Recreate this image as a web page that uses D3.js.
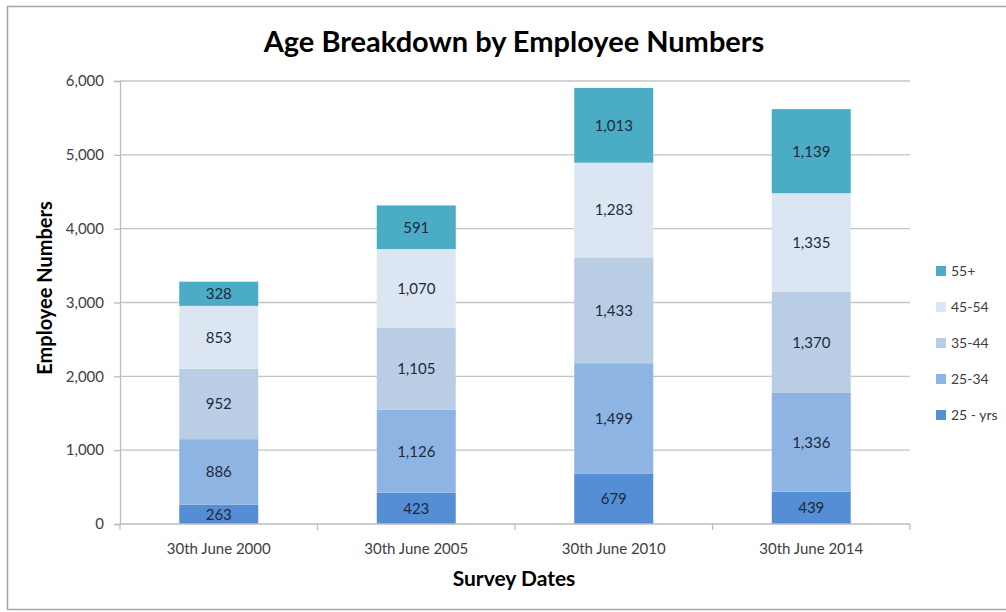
<!DOCTYPE html>
<html>
<head>
<meta charset="utf-8">
<script src="https://cdn.jsdelivr.net/npm/d3@7"></script>
<style>
  html, body { margin: 0; padding: 0; background: #fff; }
  svg { display: block; font-family: Lato, "Open Sans", "Liberation Sans", sans-serif; }
</style>
</head>
<body>
<svg id="chart" width="1006" height="612"></svg>
<script>
// Survey dates along the x axis
const categories = ["30th June 2000", "30th June 2005", "30th June 2010", "30th June 2014"];

// Age groups, stacked bottom to top
const ageGroups = ["25 - yrs", "25-34", "35-44", "45-54", "55+"];
const under25  = [263, 423, 679, 439];
const age25_34 = [886, 1126, 1499, 1336];
const age35_44 = [952, 1105, 1433, 1370];
const age45_54 = [853, 1070, 1283, 1335];
const age55up  = [328, 591, 1013, 1139];

const yTicks = [0, 1000, 2000, 3000, 4000, 5000, 6000];
const colors = ["#558ed5", "#8eb4e3", "#b9cde5", "#dce6f2", "#4bacc6"];

const seriesValues = [under25, age25_34, age35_44, age45_54, age55up];
const rows = categories.map((c, i) => {
  const r = { date: c };
  ageGroups.forEach((g, k) => { r[g] = seriesValues[k][i]; });
  return r;
});

const svg = d3.select("#chart");
const plotLeft = 120, plotRight = 910, plotTop = 81, plotBottom = 524;

// Outer chart frame
svg.append("rect")
  .attr("x", 7.5).attr("y", 6.5).attr("width", 1010).attr("height", 603)
  .attr("fill", "#fff").attr("stroke", "#a6a6a6").attr("stroke-width", 1.5);

const x = d3.scaleBand().domain(categories).range([plotLeft, plotRight]).paddingInner(0.6).paddingOuter(0.3);
const y = d3.scaleLinear().domain([0, 6000]).range([plotBottom, plotTop]);

// Horizontal gridlines
svg.append("g").selectAll("line").data(yTicks.slice(1)).join("line")
  .attr("x1", plotLeft).attr("x2", plotRight)
  .attr("y1", d => y(d)).attr("y2", d => y(d))
  .attr("stroke", "#c4c4c4").attr("stroke-width", 1.3);

// Y axis
const yAxis = svg.append("g").attr("transform", `translate(${plotLeft},0)`)
  .call(d3.axisLeft(y).tickValues(yTicks).tickFormat(d3.format(",")).tickSize(6).tickPadding(10));
yAxis.select(".domain").attr("stroke", "#bcbcbc").attr("stroke-width", 1.3);
yAxis.selectAll(".tick line").attr("stroke", "#bcbcbc").attr("stroke-width", 1.3);
yAxis.selectAll(".tick text").attr("fill", "#404040").attr("font-size", 15)
  .attr("font-family", "Lato, 'Open Sans', sans-serif");

// Stacked bars
const stack = d3.stack().keys(ageGroups)(rows);
const layers = svg.append("g").selectAll("g").data(stack).join("g")
  .attr("fill", (d, i) => colors[i]);
layers.selectAll("rect").data(d => d).join("rect")
  .attr("x", d => x(d.data.date))
  .attr("width", x.bandwidth())
  .attr("y", d => y(d[1]))
  .attr("height", d => y(d[0]) - y(d[1]));

// Segment value labels
const fmt = d3.format(",");
layers.each(function (layer) {
  d3.select(this).selectAll("text").data(layer).join("text")
    .attr("x", d => x(d.data.date) + x.bandwidth() / 2)
    .attr("y", d => (y(d[0]) + y(d[1])) / 2)
    .attr("dy", "0.36em")
    .attr("text-anchor", "middle")
    .attr("fill", "#1f2a3a")
    .attr("font-size", 15)
    .text(d => fmt(d[1] - d[0]));
});

// X axis with separators between categories
const xAxisG = svg.append("g").attr("transform", `translate(0,${plotBottom})`);
xAxisG.append("line").attr("x1", plotLeft).attr("x2", plotRight)
  .attr("stroke", "#bcbcbc").attr("stroke-width", 1.3);
const sepTicks = d3.range(categories.length + 1).map(i => plotLeft + i * (plotRight - plotLeft) / categories.length);
xAxisG.selectAll("line.sep").data(sepTicks).join("line").attr("class", "sep")
  .attr("x1", d => d).attr("x2", d => d).attr("y1", 0).attr("y2", 6)
  .attr("stroke", "#bcbcbc").attr("stroke-width", 1.3);
xAxisG.selectAll("text").data(categories).join("text")
  .attr("x", d => x(d) + x.bandwidth() / 2)
  .attr("y", 30)
  .attr("text-anchor", "middle")
  .attr("fill", "#404040").attr("font-size", 15)
  .text(d => d);

// Title and axis titles
svg.append("text").attr("x", 514).attr("y", 52).attr("text-anchor", "middle")
  .attr("font-size", 29).attr("font-weight", "bold").attr("fill", "#000")
  .text("Age Breakdown by Employee Numbers");
svg.append("text").attr("x", 514).attr("y", 586).attr("text-anchor", "middle")
  .attr("font-size", 21).attr("font-weight", "bold").attr("fill", "#000")
  .text("Survey Dates");
svg.append("text")
  .attr("transform", "translate(52,288) rotate(-90)")
  .attr("text-anchor", "middle")
  .attr("font-size", 20).attr("font-weight", "bold").attr("fill", "#000")
  .text("Employee Numbers");

// Legend, top entry is the last stacked series
const legend = svg.append("g").attr("transform", "translate(936,271)");
const legendOrder = ageGroups.map((g, i) => ({ g, c: colors[i] })).reverse();
const item = legend.selectAll("g").data(legendOrder).join("g")
  .attr("transform", (d, i) => `translate(0,${i * 36})`);
item.append("rect").attr("x", 0).attr("y", -5).attr("width", 10).attr("height", 10)
  .attr("fill", d => d.c);
item.append("text").attr("x", 15).attr("y", 0).attr("dy", "0.36em")
  .attr("font-size", 14).attr("fill", "#404040").text(d => d.g);
</script>
</body>
</html>
